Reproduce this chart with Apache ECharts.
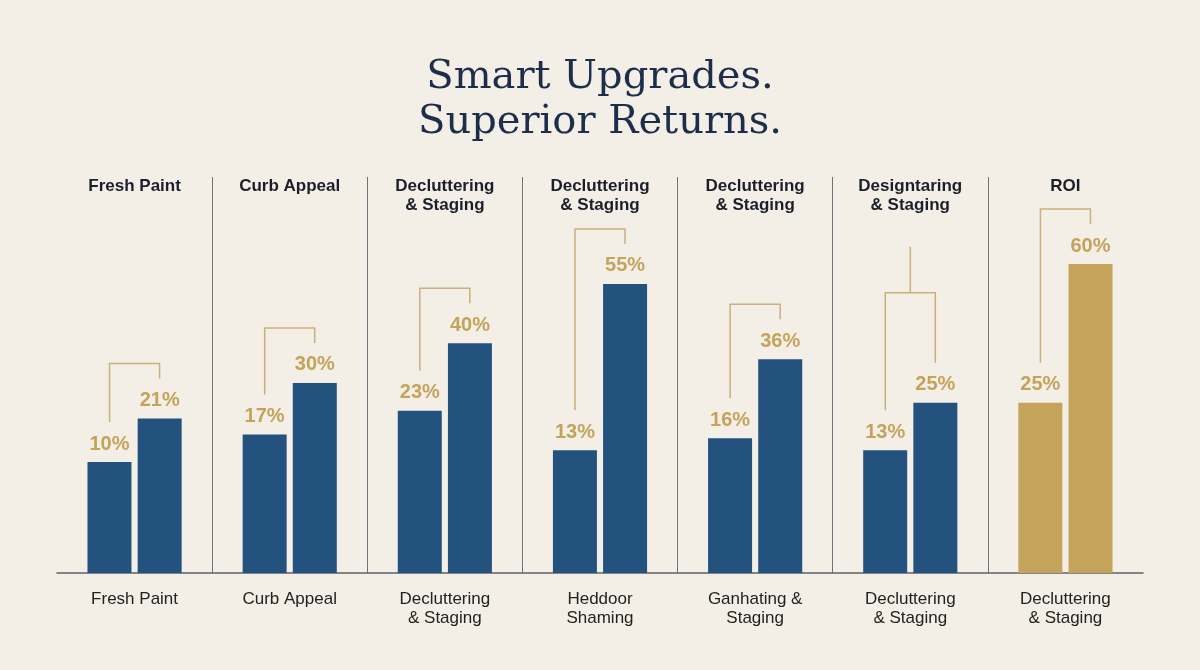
<!DOCTYPE html>
<html>
<head>
<meta charset="utf-8">
<title>Smart Upgrades. Superior Returns.</title>
<script src="https://cdn.jsdelivr.net/npm/echarts@6/dist/echarts.min.js"></script>
<style>
  html, body { margin: 0; padding: 0; background: #f3efe7; }
  #chart { width: 1200px; height: 670px; }
</style>
</head>
<body>
<div id="chart"></div>
<script>
// 数据
const topLabels = ['Fresh Paint', 'Curb Appeal', 'Decluttering\n& Staging', 'Decluttering\n& Staging',
    'Decluttering\n& Staging', 'Designtaring\n& Staging', 'ROI'];
const bottomLabels = ['Fresh Paint', 'Curb Appeal', 'Decluttering\n& Staging', 'Heddoor\nShaming',
    'Ganhating &\nStaging', 'Decluttering\n& Staging', 'Decluttering\n& Staging'];
const beforeValues = [10, 17, 23, 13, 16, 13, 25];
const afterValues = [21, 30, 40, 55, 36, 25, 60];

const navy = '#24527e';
const gold = '#c4a35a';
const lineGold = '#cbb07a';
const forkGroup = 5; // 第6组连接线是分叉样式
const lastGroup = topLabels.length - 1;

(function () {
    let myChart = echarts.init(document.getElementById('chart'));

    function barColor(p) {
        return p.dataIndex === lastGroup ? gold : navy;
    }

    let pctLabel = {
        show: true,
        position: 'top',
        distance: 8,
        formatter: '{c}%',
        color: gold,
        fontSize: 20,
        fontWeight: 'bold',
        fontFamily: 'Liberation Sans'
    };

    // 连接线
    function renderBracket(params, api) {
        let i = api.value(0);
        let l = api.coord([i, api.value(1)]);
        let r = api.coord([i, api.value(2)]);
        let lx = l[0] - 25, rx = r[0] + 25;
        let style = { stroke: lineGold, lineWidth: 1.5, fill: null };
        if (i === forkGroup) {
            let fy = r[1] - 110;
            let mx = (lx + rx) / 2;
            return {
                type: 'group',
                children: [
                    { type: 'polyline', shape: { points: [[lx, l[1] - 40], [lx, fy], [rx, fy], [rx, r[1] - 40]] }, style: style },
                    { type: 'line', shape: { x1: mx, y1: fy, x2: mx, y2: r[1] - 156 }, style: style }
                ]
            };
        }
        let ty = r[1] - 55;
        let pts = [[lx, l[1] - 40], [lx, ty], [rx, ty], [rx, r[1] - 40]];
        return { type: 'polyline', shape: { points: pts }, style: style };
    }

    let option = {
        backgroundColor: '#f3efe7',
        title: {
            text: 'Smart Upgrades.\nSuperior Returns.',
            left: 'center',
            top: 50,
            textStyle: {
                fontFamily: 'DejaVu Serif',
                fontWeight: 'normal',
                fontSize: 40,
                lineHeight: 45,
                color: '#1c2e4a'
            }
        },
        grid: { left: 57, right: 57, top: 177, bottom: 97 },
        xAxis: [{
            type: 'category',
            data: bottomLabels,
            axisLine: { onZero: false, lineStyle: { color: '#5d6168', width: 1.5 } },
            axisTick: { show: false },
            axisLabel: {
                color: '#222',
                fontSize: 17,
                lineHeight: 19,
                margin: 17,
                fontFamily: 'Liberation Sans'
            },
            splitLine: {
                show: true,
                showMinLine: false,
                showMaxLine: false,
                lineStyle: { color: '#6e737b', width: 1 }
            }
        }, {
            type: 'category',
            position: 'top',
            data: topLabels,
            axisLine: { show: false },
            axisTick: { show: false },
            axisLabel: {
                inside: true,
                margin: 0,
                color: '#1a1f2b',
                fontSize: 17,
                lineHeight: 19,
                fontWeight: 'bold',
                fontFamily: 'Liberation Sans'
            }
        }],
        yAxis: {
            type: 'value',
            min: -18,
            max: 82,
            startValue: -18,
            show: false,
            splitLine: { show: false }
        },
        series: [{
            type: 'bar',
            data: beforeValues,
            barWidth: 44,
            barGap: '14%',
            itemStyle: { color: barColor },
            label: pctLabel
        }, {
            type: 'bar',
            data: afterValues,
            barWidth: 44,
            itemStyle: { color: barColor },
            label: pctLabel
        }, {
            type: 'custom',
            renderItem: renderBracket,
            encode: { x: 0, y: [1, 2] },
            data: beforeValues.map(function (v, i) { return [i, v, afterValues[i]]; }),
            silent: true,
            z: 3
        }]
    };

    myChart.setOption(option);
    window.addEventListener('resize', function () {
        myChart.resize();
    });
})();
</script>
</body>
</html>
